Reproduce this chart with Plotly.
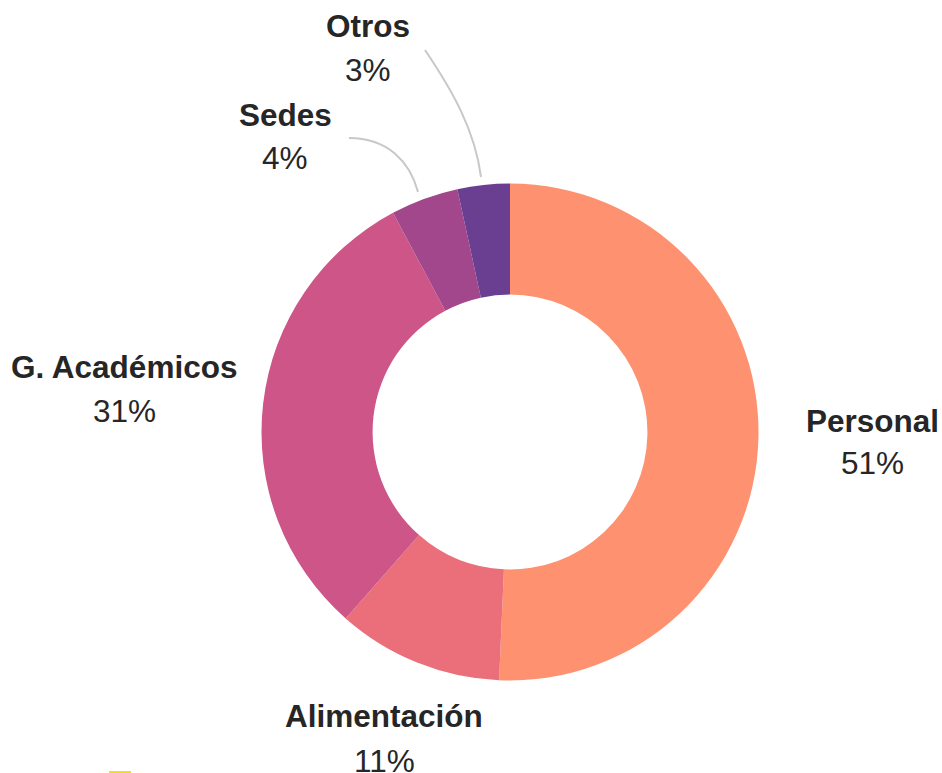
import plotly.graph_objects as go

# ---- data ----
categories = ["Personal", "Alimentación", "G. Académicos", "Sedes", "Otros"]
values = [50.7, 10.8, 30.7, 4.4, 3.4]
colors = ["#FE9270", "#EA6F7A", "#CD5587", "#A2478B", "#6A3E90"]

# ---- layout helpers (pixel geometry of the 942x773 canvas) ----
W, H = 942, 773
cx, cy, R = 510, 432, 248.5


def px(x):
    return x / W


def py(y):
    return 1 - y / H


total = sum(values)
pcts = [f"{round(v / total * 100)}%" for v in values]

# label placement (pixel centres of the name line and the value line)
label_pos = {
    "Personal": (872, 421, 463),
    "Alimentación": (384, 716, 761),
    "G. Académicos": (124, 367, 411),
    "Sedes": (285, 115, 158),
    "Otros": (368, 26, 70),
}

FONT = "Liberation Sans, Arial, sans-serif"
FS = 31.5

fig = go.Figure(
    go.Pie(
        labels=categories,
        values=values,
        marker=dict(colors=colors, line=dict(width=0)),
        hole=0.553,
        sort=False,
        direction="clockwise",
        rotation=0,
        textinfo="none",
        hoverinfo="label+percent",
        showlegend=False,
        domain=dict(x=[px(cx - R), px(cx + R)], y=[py(cy + R), py(cy - R)]),
    )
)

annotations = []
for name, pct in zip(categories, pcts):
    x, y1, y2 = label_pos[name]
    annotations.append(dict(
        x=px(x), y=py(y1), xref="paper", yref="paper", xanchor="center", yanchor="middle",
        text=f"<b>{name}</b>", showarrow=False,
        font=dict(family=FONT, size=FS, color="#262626"),
    ))
    annotations.append(dict(
        x=px(x), y=py(y2), xref="paper", yref="paper", xanchor="center", yanchor="middle",
        text=pct, showarrow=False,
        font=dict(family=FONT, size=FS, color="#262626"),
    ))


def path(points):
    (x0, y0), (a, b), (c, d), (x1, y1) = points
    return (f"M {px(x0)} {py(y0)} C {px(a)} {py(b)}, {px(c)} {py(d)}, {px(x1)} {py(y1)}")


shapes = [
    dict(type="path", xref="paper", yref="paper",
         path=path([(349, 138), (388, 138), (410, 162), (418, 192)]),
         line=dict(color="#C8C8C8", width=2)),
    dict(type="path", xref="paper", yref="paper",
         path=path([(425, 50), (452, 90), (475, 130), (481, 177)]),
         line=dict(color="#C8C8C8", width=2)),
    dict(type="rect", xref="paper", yref="paper",
         x0=px(109), x1=px(131), y0=py(773), y1=py(771),
         line=dict(width=0), fillcolor="#F3DF1A"),
]

fig.update_layout(
    width=W, height=H,
    margin=dict(l=0, r=0, t=0, b=0),
    paper_bgcolor="white", plot_bgcolor="white",
    annotations=annotations,
    shapes=shapes,
)

fig.write_html(
    "out.html",
    config={"displayModeBar": False},
    post_script="document.body.style.margin='0';document.body.style.overflow='hidden';",
)
